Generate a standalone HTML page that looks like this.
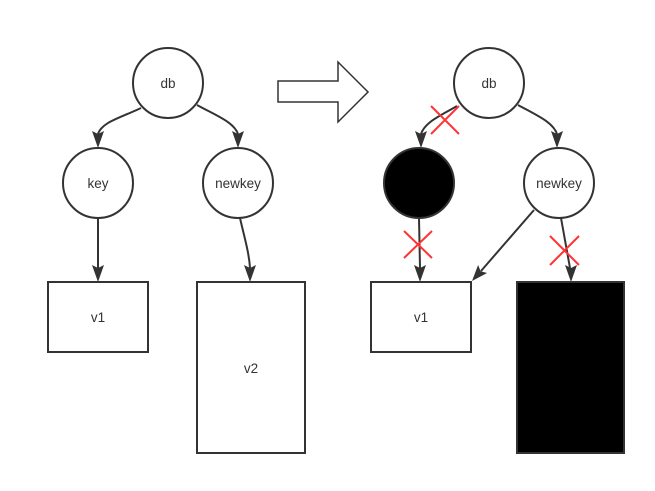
<!DOCTYPE html>
<html><head><style>body{margin:0;background:#fff}</style></head><body>
<svg width="655" height="486" viewBox="0 0 655 486" xmlns="http://www.w3.org/2000/svg" font-family="Liberation Sans, sans-serif" font-size="13.5" fill="#333">
<g stroke="#333" stroke-width="2" fill="none">
<circle cx="168" cy="83" r="35" fill="#fff"/>
<circle cx="98" cy="183" r="35" fill="#fff"/>
<circle cx="238" cy="183" r="35" fill="#fff"/>
<rect x="48" y="282" width="100" height="70" fill="#fff"/>
<rect x="197" y="282" width="108" height="171" fill="#fff"/>
<path d="M141,108 C120,118 102,122 98,134"/>
<path d="M197,105 C215,115 234,122 238,134"/>
<path d="M98,218 L98,268"/>
<path d="M240,218 C244,236 249,252 250,268"/>
<path d="M278,81 L338,81 L338,62 L368,92 L338,122 L338,102 L278,102 Z" stroke-width="1.5" fill="#fff"/>
<circle cx="489" cy="83" r="35" fill="#fff"/>
<circle cx="419" cy="183" r="35" fill="#000"/>
<circle cx="559" cy="183" r="35" fill="#fff"/>
<rect x="371" y="282" width="100" height="70" fill="#fff"/>
<rect x="517" y="282" width="107" height="171" fill="#000"/>
<path d="M457,106 C440,116 425,122 421,134"/>
<path d="M518,105 C536,115 553,122 557,134"/>
<path d="M419,218 L420,268"/>
<path d="M534,210 L481,271"/>
<path d="M561,218 L570,268"/>
</g>
<g fill="#333">
<polygon points="98,148 92,131 98,134 104,131"/>
<polygon points="238,148 232,131 238,134 244,131"/>
<polygon points="98,282 92,265 98,268 104,265"/>
<polygon points="250,282 244,265 250,268 256,265"/>
<polygon points="421,148 415,131 421,134 427,131"/>
<polygon points="557,148 551,131 557,134 563,131"/>
<polygon points="420,282 414,265 420,268 426,265"/>
<polygon points="472,281 487.1,273 480.6,271.2 478.1,265"/>
<polygon points="571,282 565,265 571,268 577,265"/>
</g>
<g stroke="#f33" stroke-width="2">
<path d="M431,106 L459,134 M459,106 L431,134"/>
<path d="M404,231 L432,258 M432,231 L404,258"/>
<path d="M550,236 L579,265 M579,236 L550,265"/>
</g>
<g text-anchor="middle">
<text x="168" y="88">db</text><text x="98" y="188">key</text><text x="238" y="188">newkey</text>
<text x="98" y="322">v1</text><text x="251" y="373">v2</text>
<text x="489" y="88">db</text><text x="559" y="188">newkey</text><text x="421" y="322">v1</text>
</g>
</svg>
</body></html>
